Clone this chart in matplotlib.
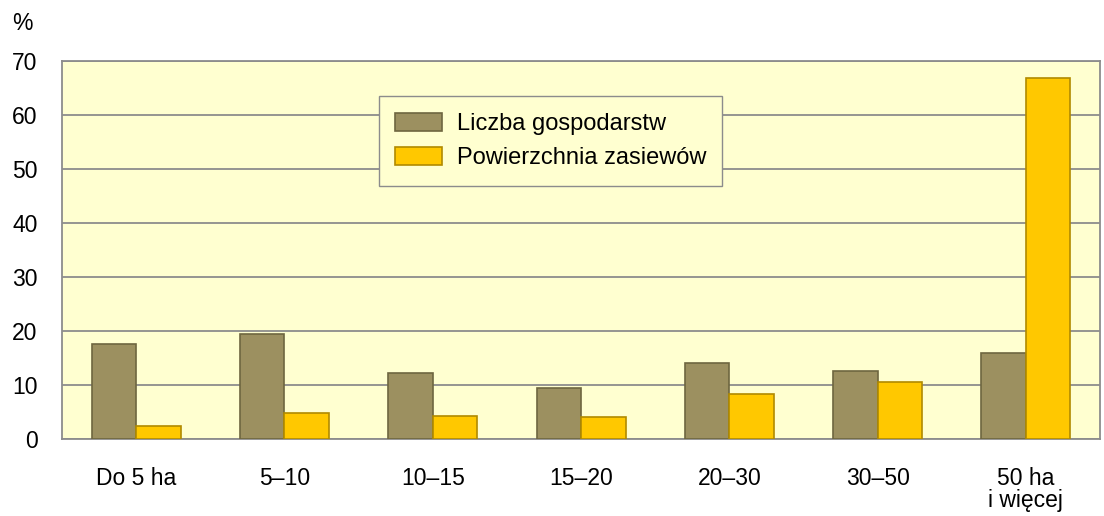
import numpy as np
import matplotlib.pyplot as plt

plt.rcParams['font.family'] = ['Liberation Sans', 'DejaVu Sans']

# dane (%)
categories = ["Do 5 ha", "5–10", "10–15", "15–20", "20–30", "30–50", "50 ha\ni więcej"]
gospodarstwa = [17.6, 19.4, 12.2, 9.4, 14.1, 12.6, 15.9]
zasiewy = [2.4, 4.8, 4.3, 4.1, 8.3, 10.6, 66.9]

FS = 16.5

fig = plt.figure(figsize=(11.04, 5.16), dpi=100)
ax = fig.add_axes([0.0562, 0.149, 0.9402, 0.733])
ax.set_facecolor("#FFFFD0")

x = np.arange(len(categories))
w = 0.3
ax.bar(x - w / 2, gospodarstwa, w, color="#9C9060", edgecolor="#6E6640",
       linewidth=1.2, label="Liczba gospodarstw", zorder=3)
ax.bar(x + w / 2, zasiewy, w, color="#FFC800", edgecolor="#B08A00",
       linewidth=1.2, label="Powierzchnia zasiewów", zorder=3)

ax.set_xlim(-0.5, len(categories) - 0.5)
ax.set_ylim(0, 70)
ax.set_yticks(range(0, 71, 10))
ax.set_xticks(x)
ax.set_xticklabels(categories, fontsize=FS, linespacing=0.95, va='top')
ax.tick_params(axis='y', labelsize=FS, length=0, pad=17.5)
ax.tick_params(axis='x', length=0, pad=20)

ax.grid(axis='y', color="#8C8C8C", linewidth=1.3, zorder=0)
for s in ax.spines.values():
    s.set_color("#8C8C8C")
    s.set_linewidth(1.3)

fig.text(0.011, 0.977, "%", fontsize=FS, va='top')

leg = ax.legend(loc="upper left", bbox_to_anchor=(0.305, 0.906), fontsize=17,
                frameon=True, fancybox=False, handlelength=2.0, handleheight=0.8,
                handletextpad=0.6, borderpad=0.7, labelspacing=0.5,
                borderaxespad=0)
leg.get_frame().set_facecolor("#FFFFD0")
leg.get_frame().set_edgecolor("#8C8C8C")
leg.get_frame().set_linewidth(1.0)
leg.get_frame().set_alpha(1)

fig.savefig("out.png", dpi=100)
